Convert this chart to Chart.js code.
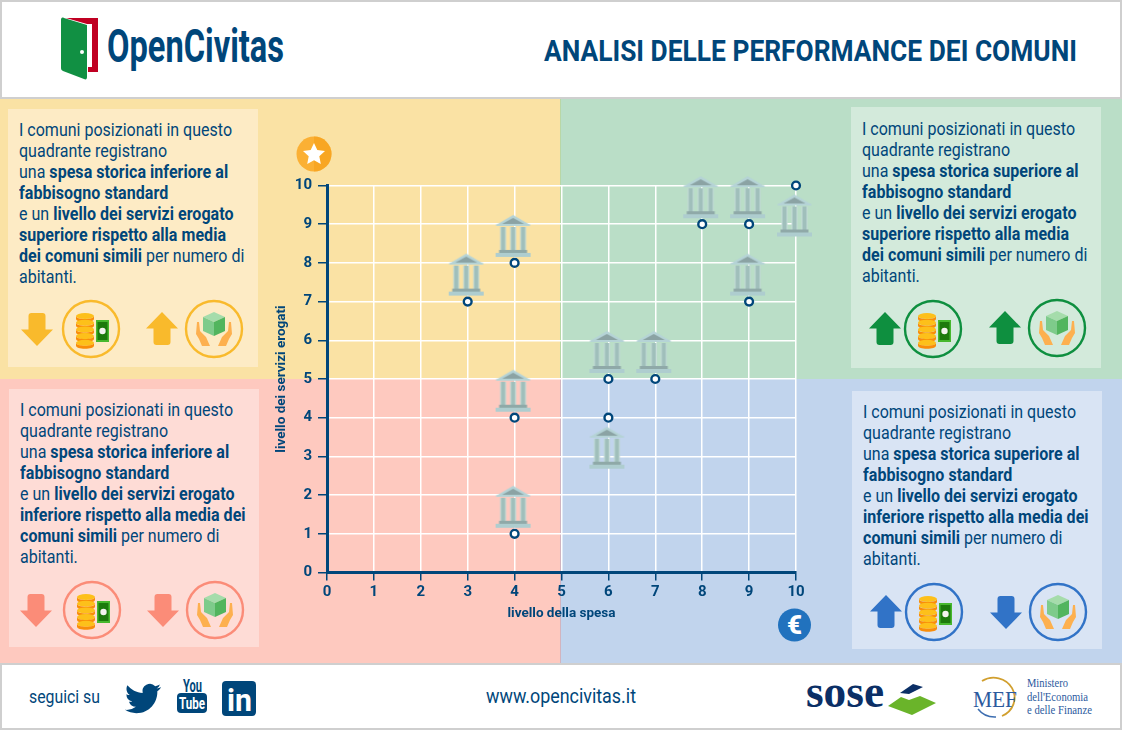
<!DOCTYPE html>
<html lang="it">
<head>
<meta charset="utf-8">
<title>OpenCivitas</title>
<script src="https://cdn.jsdelivr.net/npm/chart.js@4"></script>
<style>
html,body{margin:0;padding:0;background:#fff;}
#page{position:relative;width:1122px;height:730px;overflow:hidden;font-family:Roboto,sans-serif;color:#00467a;}
.abs{position:absolute;}
.box{position:absolute;width:250px;height:259px;}
.txt{position:absolute;white-space:nowrap;font-size:18px;line-height:21px;transform:scaleX(.89);transform-origin:0 0;}
.txt b{font-weight:700;letter-spacing:.04px;}
#art,#chartWrap{position:absolute;left:0;top:0;width:1122px;height:730px;}
svg text{fill:#00467a;}
</style>
</head>
<body>
<div id="page">
  <div class="abs" style="left:0;top:97px;width:561px;height:282px;background:#fae2a4"></div>
  <div class="abs" style="left:561px;top:97px;width:561px;height:282px;background:#badec7"></div>
  <div class="abs" style="left:0;top:379px;width:561px;height:285px;background:#fec9bf"></div>
  <div class="abs" style="left:561px;top:379px;width:561px;height:285px;background:#c1d4ed"></div>
  <div class="abs" style="left:560px;top:97px;width:1px;height:282px;background:#b9d7a6"></div>
  <div class="abs" style="left:560px;top:379px;width:1px;height:285px;background:#d2b4bf"></div>

  <div class="abs" style="left:0;top:0;width:1118px;height:95px;background:#fff;border:2px solid #cfcfcf"></div>
  <div class="abs" style="left:0;top:663px;width:1118px;height:63px;background:#fff;border:2px solid #cfcfcf"></div>

  <div class="box" style="left:8px;top:109px;height:258px;background:#fdebc5"></div>
  <div class="box" style="left:851px;top:107px;height:261px;background:#d3eadb"></div>
  <div class="box" style="left:9px;top:389px;height:258px;background:#fedcd6"></div>
  <div class="box" style="left:852px;top:391px;height:258px;background:#d9e4f4"></div>

  <div class="txt" style="left:19px;top:119px">I comuni posizionati in questo<br>quadrante registrano<br>una <b>spesa storica inferiore al</b><br><b>fabbisogno standard</b><br>e un <b>livello dei servizi erogato</b><br><b>superiore rispetto alla media</b><br><b>dei comuni simili</b> per numero di<br>abitanti.</div>
  <div class="txt" style="left:862px;top:118px">I comuni posizionati in questo<br>quadrante registrano<br>una <b>spesa storica superiore al</b><br><b>fabbisogno standard</b><br>e un <b>livello dei servizi erogato</b><br><b>superiore rispetto alla media</b><br><b>dei comuni simili</b> per numero di<br>abitanti.</div>
  <div class="txt" style="left:20px;top:399px">I comuni posizionati in questo<br>quadrante registrano<br>una <b>spesa storica inferiore al</b><br><b>fabbisogno standard</b><br>e un <b>livello dei servizi erogato</b><br><b>inferiore rispetto alla media dei</b><br><b>comuni simili</b> per numero di<br>abitanti.</div>
  <div class="txt" style="left:863px;top:401px">I comuni posizionati in questo<br>quadrante registrano<br>una <b>spesa storica superiore al</b><br><b>fabbisogno standard</b><br>e un <b>livello dei servizi erogato</b><br><b>inferiore rispetto alla media dei</b><br><b>comuni simili</b> per numero di<br>abitanti.</div>

  <svg id="art" viewBox="0 0 1122 730" xmlns="http://www.w3.org/2000/svg">
    <defs>
      <g id="coins">
        <g id="coin1"><ellipse cx="-6" cy="-13" rx="9" ry="3" fill="#fdc01a"/><path d="M-15 -13v3c0 1.7 4 3 9 3s9-1.300 9-3v-3c0 1.700-4 3-9 3s-9-1.300-9-3z" fill="#f98d0a"/></g>
        <use href="#coin1" y="6.700"/><use href="#coin1" y="13.400"/><use href="#coin1" y="20.100"/><use href="#coin1" y="26.800"/>
        <rect x="5" y="-9" width="13" height="22" fill="#47b82e"/>
        <rect x="6.500" y="-7" width="10" height="18" fill="#1d7a0c"/>
        <circle cx="11.500" cy="2" r="3.200" fill="#f3f3ee"/>
      </g>
      <g id="hands">
        <path d="M-17 -7l2 0 1 9 6 6 4 9h-8l-3-7-3-5z" fill="#fdb04f"/>
        <path d="M17 -7l-2 0-1 9-6 6-4 9h8l3-7 3-5z" fill="#fdb04f"/>
        <path d="M0 -17l11 5-11 5-11-5z" fill="#a5dcab"/>
        <path d="M-11 -12l11 5v14l-11-5z" fill="#7ecb8b"/>
        <path d="M11 -12l-11 5v14l11-5z" fill="#52b55e"/>
      </g>
      <path id="arrowUp" d="M0 -17l16 16.500h-7.500v13.500a3 3 0 0 1-3 3h-11a3 3 0 0 1-3-3v-13.500h-7.500z"/>
    </defs>
    <g id="quadIcons"></g>

    <!-- logo -->
    <path d="M66 18h32v54h-10v-5h4v-43h-5z" fill="#c00022"/>
    <path d="M61 20c0-2 1-3 3-2l23 7v52c0 2-1 3-3 2l-21-8c-1-.500-2-1-2-3z" fill="#119043"/>
    <circle cx="82" cy="52" r="2" fill="#fff"/>
    <text x="107" y="62" font-family="Roboto" font-weight="700" font-size="46" textLength="177" lengthAdjust="spacingAndGlyphs">OpenCivitas</text>
    <text x="1077" y="60.500" text-anchor="end" font-family="Roboto" font-weight="700" font-size="29.500" textLength="533" lengthAdjust="spacingAndGlyphs">ANALISI DELLE PERFORMANCE DEI COMUNI</text>

    <!-- badges on the chart -->
    <circle cx="314" cy="154" r="17.500" fill="#fbb034"/>
    <path d="M314 136.500a17.500 17.500 0 0 1 0 35z" fill="#f6a21c" opacity=".7"/>
    <path d="M314 143l3.300 7.100 7.700.900-5.700 5.300 1.500 7.700-6.800-3.800-6.800 3.800 1.500-7.700-5.700-5.300 7.700-.900z" fill="#fff"/>
    <circle cx="794.500" cy="625" r="16.500" fill="#2172be"/>
    <text x="794.500" y="634" text-anchor="middle" font-family="Roboto" font-weight="900" font-size="26" style="fill:#fff">€</text>

    <!-- footer -->
    <text x="29" y="703" font-family="Roboto" font-size="18" textLength="71" lengthAdjust="spacingAndGlyphs">seguici su</text>
    <path transform="translate(125 680.500) scale(1.500)" fill="#00467a" d="M23.953 4.570a10 10 0 01-2.825.775 4.958 4.958 0 002.163-2.723c-.951.555-2.005.959-3.127 1.184a4.920 4.920 0 00-8.384 4.482C7.690 8.095 4.067 6.130 1.640 3.162a4.822 4.822 0 00-.666 2.475c0 1.710.870 3.213 2.188 4.096a4.904 4.904 0 01-2.228-.616v.060a4.923 4.923 0 003.946 4.827 4.996 4.996 0 01-2.212.085 4.936 4.936 0 004.604 3.417 9.867 9.867 0 01-6.102 2.105c-.390 0-.779-.023-1.170-.067a13.995 13.995 0 007.557 2.209c9.053 0 13.998-7.496 13.998-13.985 0-.210 0-.420-.015-.630A9.935 9.935 0 0024 4.590z"/>
    <text x="183" y="692" font-family="Roboto" font-weight="700" font-size="18" textLength="19" lengthAdjust="spacingAndGlyphs">You</text>
    <rect x="177" y="693" width="30" height="20" rx="4" fill="#00467a"/>
    <text x="179" y="709" font-family="Roboto" font-weight="700" font-size="17" textLength="26" lengthAdjust="spacingAndGlyphs" style="fill:#fff">Tube</text>
    <rect x="222" y="681" width="34" height="35" rx="4" fill="#00467a"/>
    <text x="227" y="711" font-family="Roboto" font-weight="700" font-size="32" textLength="25" lengthAdjust="spacingAndGlyphs" style="fill:#fff">in</text>
    <text x="561" y="703" text-anchor="middle" font-family="Roboto" font-size="20" textLength="150" lengthAdjust="spacingAndGlyphs">www.opencivitas.it</text>

    <text x="806" y="707" font-family="Liberation Serif" font-weight="700" font-size="46" textLength="78" lengthAdjust="spacingAndGlyphs" style="fill:#0b2f66">sose</text>
    <path d="M900 693l13-9 10 3-14 7z" fill="#0b2f66"/>
    <path d="M888 706l13-9 8 3 11-4 16 7-24 12z" fill="#6ab42a"/>
    <path d="M982 681a21 20 0 1 1 20 35" fill="none" stroke="#d19f2e" stroke-width="1.800"/>
    <path d="M978 709a21 20 0 0 0 18 8" fill="none" stroke="#3c6db0" stroke-width="1.500"/>
    <text x="973" y="707" font-family="Liberation Serif" font-size="23" textLength="44" lengthAdjust="spacingAndGlyphs" style="fill:#2c5a9e">MEF</text>
    <text x="1027" y="687" font-family="Liberation Serif" font-size="11.500" textLength="41" lengthAdjust="spacingAndGlyphs" style="fill:#2c5a9e">Ministero</text>
    <text x="1027" y="701" font-family="Liberation Serif" font-size="11.500" textLength="61" lengthAdjust="spacingAndGlyphs" style="fill:#2c5a9e">dell'Economia</text>
    <text x="1027" y="714" font-family="Liberation Serif" font-size="11.500" textLength="65" lengthAdjust="spacingAndGlyphs" style="fill:#2c5a9e">e delle Finanze</text>
  </svg>

  <div id="chartWrap"><canvas id="grafico" width="1122" height="730"></canvas></div>
</div>

<script>
// comuni: livello della spesa (x) e livello dei servizi (y)
const spesaSopra = [3, 4, 4, 4, 6, 7, 8, 9, 9];
const serviziSopra = [7, 8, 4, 1, 5, 5, 9, 9, 7];
// qui l'icona sta sotto il punto
const spesaSotto = [6, 10];
const serviziSotto = [4, 10];
const tickValues = [0, 1, 2, 3, 4, 5, 6, 7, 8, 9, 10];

const NAVY = '#00467a';
const CONDENSED = "'Liberation Sans Narrow', Roboto, sans-serif";

function toPoints(xs, ys) {
  return xs.map((x, i) => ({x: x, y: ys[i]}));
}

// icone dei quadranti
const quadIcons = [
  {color: '#f9ba2c', a: [37, 329, 1], c1: [91, 329], b: [162, 329, -1], c2: [214, 329]},
  {color: '#0e8f3f', a: [885, 329, -1], c1: [933, 329], b: [1005, 328, -1], c2: [1057, 328]},
  {color: '#fb8c78', a: [36, 610, 1], c1: [92, 610], b: [163, 610, 1], c2: [215, 610]},
  {color: '#3173c7', a: [886, 612, -1], c1: [934, 612], b: [1006, 612, 1], c2: [1058, 612]}
];
let iconMarkup = '';
quadIcons.forEach(q => {
  [q.a, q.b].forEach(a => {
    iconMarkup += `<use href="#arrowUp" fill="${q.color}" transform="translate(${a[0]} ${a[1]}) scale(1 ${-a[2]})"/>`;
  });
  iconMarkup += `<circle cx="${q.c1[0]}" cy="${q.c1[1]}" r="28" fill="none" stroke="${q.color}" stroke-width="2.400"/>`;
  iconMarkup += `<use href="#coins" x="${q.c1[0]}" y="${q.c1[1]}"/>`;
  iconMarkup += `<circle cx="${q.c2[0]}" cy="${q.c2[1]}" r="28" fill="none" stroke="${q.color}" stroke-width="2.400"/>`;
  iconMarkup += `<use href="#hands" x="${q.c2[0]}" y="${q.c2[1]}"/>`;
});
document.getElementById('quadIcons').innerHTML = iconMarkup;

// disegna il municipio su un canvas usato come pointStyle
function makeBank(offsetY) {
  const c = document.createElement('canvas');
  c.width = 40;
  c.height = 120;
  const g = c.getContext('2d');
  g.translate(18.5, 60 + offsetY);
  g.fillStyle = '#b5d3d6';
  g.beginPath(); g.moveTo(0, -21); g.lineTo(17, -11); g.lineTo(-17, -11); g.closePath(); g.fill();
  g.fillStyle = '#8ba3a4';
  g.beginPath(); g.moveTo(0, -18); g.lineTo(11, -12); g.lineTo(-11, -12); g.closePath(); g.fill();
  g.fillStyle = '#b5d3d6';
  g.fillRect(-17, -11.5, 34, 1.5);
  [-13, -3, 7].forEach(x => {
    g.fillStyle = '#c3dad7';
    g.fillRect(x, -9, 6, 23);
    g.fillStyle = '#a0bfbb';
    g.fillRect(x + 1, -9, 4, 23);
  });
  g.fillStyle = '#8fa9a8';
  g.fillRect(-14, 14, 28, 3);
  g.fillStyle = '#aecdcf';
  g.fillRect(-17.500, 17, 35, 4);
  return c;
}

new Chart(document.getElementById('grafico'), {
  type: 'scatter',
  data: {
    datasets: [
      {
        data: toPoints(spesaSopra, serviziSopra),
        pointStyle: makeBank(-27),
        clip: false
      },
      {
        data: toPoints(spesaSotto, serviziSotto),
        pointStyle: makeBank(30),
        clip: false
      },
      {
        data: toPoints(spesaSopra.concat(spesaSotto), serviziSopra.concat(serviziSotto)),
        pointStyle: 'circle',
        pointRadius: 3.9,
        pointBackgroundColor: '#fff',
        pointBorderColor: NAVY,
        pointBorderWidth: 2.4,
        clip: false
      }
    ]
  },
  options: {
    responsive: false,
    animation: false,
    layout: {padding: {left: 267, top: 185.5, right: 326, bottom: 97.5}},
    plugins: {legend: {display: false}, tooltip: {enabled: false}},
    scales: {
      x: {
        type: 'linear', min: 0, max: 10,
        afterFit: s => { s.height = 60; },
        afterBuildTicks: s => { s.ticks = tickValues.map(v => ({value: v})); },
        grid: {color: '#ffffff', lineWidth: 1.5, tickColor: NAVY, tickLength: 8, tickWidth: 1.5},
        border: {color: NAVY, width: 3},
        ticks: {color: NAVY, padding: 3, maxRotation: 0, font: {family: CONDENSED, size: 15, weight: 'bold'}},
        title: {display: true, text: 'livello della spesa', color: NAVY, padding: {top: 0, bottom: 10.600},
          font: {family: CONDENSED, size: 13.5, weight: 'bold'}}
      },
      y: {
        type: 'linear', min: 0, max: 10,
        afterFit: s => { s.width = 60; },
        afterBuildTicks: s => { s.ticks = tickValues.map(v => ({value: v})); },
        grid: {color: '#ffffff', lineWidth: 1.5, tickColor: NAVY, tickLength: 9, tickWidth: 1.5},
        border: {color: NAVY, width: 3},
        ticks: {color: NAVY, padding: 6, font: {family: CONDENSED, size: 15, weight: 'bold'}},
        title: {display: true, text: 'livello dei servizi erogati', color: NAVY, padding: {top: 6.600, bottom: 0},
          font: {family: CONDENSED, size: 13.5, weight: 'bold'}}
      }
    }
  }
});
</script>
</body>
</html>
